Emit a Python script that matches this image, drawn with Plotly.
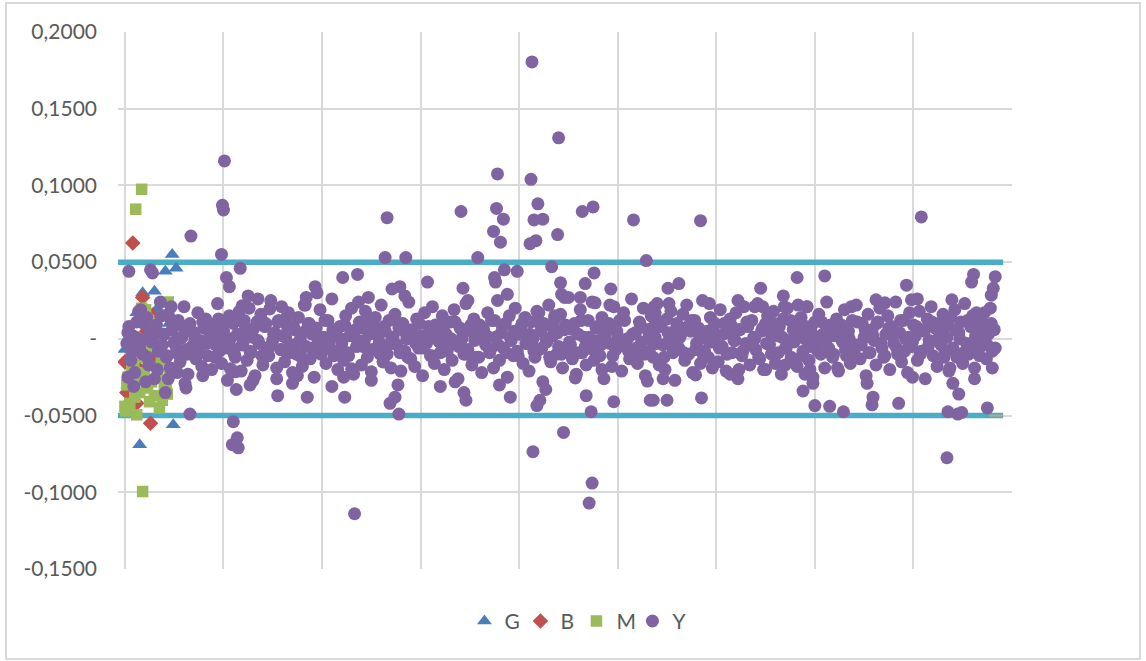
import plotly.graph_objects as go

# ---------------- data ----------------
# Y series: band values (observation index 2, 4, ..., 882)
y_band = [
    -0.003, 0.008, -0.014, 0.002, -0.022, 0.011, -0.006, 0.019, -0.010, 0.000, 0.014, -0.017, 0.005, -0.001, -0.026, 0.009, -0.008, 0.024, -0.004, 0.003,
    -0.012, 0.016, -0.019, 0.006, -0.002, -0.009, 0.012, -0.015, 0.001, 0.021, -0.007, -0.023, 0.010, -0.005, 0.004, -0.013, 0.017, -0.001, -0.018, 0.007,
    0.013, -0.011, 0.002, -0.020, 0.009, -0.004, 0.023, -0.008, -0.016, 0.005, 0.000, -0.027, 0.015, -0.006, 0.010, -0.012, 0.003, 0.018, -0.021, -0.002,
    0.006, -0.014, 0.020, -0.009, 0.001, -0.024, 0.011, -0.003, 0.016, -0.017, 0.008, -0.006, -0.011, 0.025, -0.001, 0.004, -0.019, 0.012, -0.007, 0.002,
    -0.015, 0.009, 0.017, -0.004, -0.022, 0.006, -0.010, 0.014, 0.000, -0.018, 0.022, -0.005, 0.010, -0.013, 0.003, -0.025, 0.007, -0.002, 0.019, -0.008,
    0.001, -0.016, 0.012, -0.006, 0.026, -0.011, 0.004, -0.020, 0.008, -0.003, -0.014, 0.015, -0.009, 0.002, 0.020, -0.023, 0.006, -0.001, 0.011, -0.017,
    -0.005, 0.018, -0.012, 0.003, -0.027, 0.009, 0.014, -0.007, -0.002, 0.022, -0.015, 0.005, -0.010, 0.012, -0.019, 0.001, 0.016, -0.004, 0.007, -0.021,
    0.010, -0.008, 0.000, 0.024, -0.013, 0.004, -0.018, 0.013, -0.006, 0.002, -0.024, 0.017, -0.003, 0.008, -0.011, 0.021, -0.016, 0.006, -0.001, -0.009,
    0.015, -0.020, 0.003, -0.005, 0.011, -0.014, 0.019, -0.002, -0.026, 0.007, 0.000, -0.010, 0.023, -0.007, 0.005, -0.017, 0.013, -0.012, 0.002, 0.009,
    -0.022, 0.006, -0.004, 0.017, -0.009, 0.012, -0.019, 0.001, 0.025, -0.014, 0.004, -0.006, 0.010, -0.025, 0.015, -0.001, -0.011, 0.020, -0.008, 0.003,
    0.008, -0.016, 0.014, -0.003, -0.021, 0.011, 0.000, -0.012, 0.018, -0.007, 0.005, -0.028, 0.009, -0.002, 0.022, -0.015, 0.002, 0.013, -0.010, -0.005,
    0.016, -0.019, 0.006, -0.008, 0.027, -0.004, -0.013, 0.010, -0.023, 0.003, 0.019, -0.009, 0.001, -0.017, 0.012, -0.006, 0.024, -0.014, 0.007, -0.001,
    -0.011, 0.014, -0.026, 0.005, 0.009, -0.003, -0.018, 0.021, -0.007, 0.002, 0.012, -0.021, 0.017, -0.005, 0.000, -0.013, 0.026, -0.010, 0.004, -0.016,
    0.011, -0.002, 0.020, -0.024, 0.006, -0.008, 0.015, -0.012, 0.001, 0.023, -0.017, 0.008, -0.004, -0.020, 0.013, -0.001, 0.018, -0.009, -0.027, 0.010,
    -0.006, 0.003, 0.016, -0.014, 0.022, -0.010, 0.005, -0.022, 0.012, -0.003, 0.007, -0.016, 0.025, -0.008, 0.000, -0.012, 0.014, -0.019, 0.009, 0.002,
    -0.015, 0.019, -0.005, 0.010, -0.021, 0.004, 0.013, -0.009, -0.001, 0.017, -0.026, 0.006, -0.011, 0.021, -0.003, 0.008, -0.017, 0.012, 0.001, -0.007,
    0.023, -0.013, 0.005, -0.020, 0.010, 0.015, -0.004, -0.010, 0.018, -0.016, 0.002, 0.008, -0.023, 0.013, -0.006, 0.020, -0.001, -0.012, 0.006, 0.011,
    -0.018, 0.004, 0.014, -0.008, 0.000, 0.021, -0.014, 0.007, -0.025, 0.011, -0.003, 0.016, -0.010, 0.003, -0.019, 0.024, -0.006, 0.009, -0.012, 0.002,
    0.013, -0.021, 0.008, -0.002, 0.019, -0.011, 0.005, -0.016, 0.012, -0.007, 0.022, -0.004, -0.013, 0.010, 0.001, -0.024, 0.016, -0.009, 0.006, -0.001,
    -0.017, 0.011, 0.020, -0.006, -0.012, 0.003, 0.015, -0.020, 0.008, -0.003, 0.024, -0.010, 0.004, -0.015, 0.012, 0.000, -0.022, 0.017, -0.005, 0.009,
    0.002, -0.014, 0.018, -0.008, 0.006, -0.026, 0.013, -0.001, 0.021, -0.011, 0.007, -0.018, 0.010, -0.004, 0.016, -0.009, 0.001, -0.021, 0.014, -0.006,
    0.019, -0.012, 0.004, 0.011, -0.016, 0.023, -0.003, -0.010, 0.008, 0.015, -0.019, 0.005, -0.007, 0.012, -0.002, 0.017, -0.013, 0.003, 0.020, -0.008,
    0.006,
]
y_band_x = [2 * (i + 1) for i in range(len(y_band))]

# Y series: dense core values (observation index 3, 7, ..., 883)
y_core = [
    0.004, -0.009, 0.001, -0.005, 0.010, -0.012, -0.002, 0.007, -0.007, 0.003, -0.011, 0.012, -0.004, 0.000, 0.008, -0.010, 0.005, -0.001, -0.008, 0.011,
    -0.003, 0.006, -0.012, 0.002, 0.009, -0.006, 0.000, -0.010, 0.012, -0.004, 0.004, -0.008, 0.007, -0.001, -0.011, 0.010, -0.005, 0.003, 0.011, -0.007,
    0.001, -0.009, 0.008, -0.003, -0.012, 0.005, 0.010, -0.006, 0.002, -0.010, 0.012, -0.002, 0.006, -0.008, 0.000, 0.009, -0.011, 0.004, -0.005, 0.007,
    -0.001, 0.011, -0.007, 0.003, -0.010, 0.008, -0.004, 0.001, 0.012, -0.009, 0.005, -0.012, 0.006, -0.003, 0.010, -0.006, 0.002, -0.011, 0.009, -0.002,
    0.007, -0.008, 0.000, 0.011, -0.005, 0.004, -0.010, 0.009, -0.001, -0.012, 0.006, 0.002, -0.007, 0.012, -0.004, 0.008, -0.009, 0.001, 0.005, -0.011,
    0.010, -0.003, 0.003, -0.008, 0.011, -0.006, 0.000, -0.012, 0.007, 0.004, -0.010, 0.009, -0.002, 0.006, -0.009, 0.012, -0.005, 0.001, -0.007, 0.008,
    -0.004, 0.002, 0.010, -0.011, 0.005, -0.001, 0.012, -0.008, 0.003, -0.006, 0.009, -0.010, 0.000, 0.007, -0.003, 0.011, -0.012, 0.004, -0.005, 0.006,
    0.001, -0.009, 0.008, 0.012, -0.007, 0.002, -0.011, 0.005, -0.002, 0.010, -0.006, 0.003, -0.010, 0.009, -0.001, 0.006, -0.008, 0.011, -0.004, 0.000,
    -0.012, 0.007, -0.003, 0.004, 0.010, -0.009, 0.001, -0.006, 0.012, -0.002, 0.005, -0.011, 0.008, -0.005, 0.002, -0.008, 0.011, -0.001, 0.006, -0.010,
    0.003, 0.009, -0.007, 0.000, -0.012, 0.011, -0.004, 0.006, -0.009, 0.002, 0.010, -0.003, -0.011, 0.007, 0.004, -0.006, 0.012, -0.008, 0.001, -0.002,
    0.008, -0.010, 0.005, -0.005, 0.011, -0.001, 0.003, -0.012, 0.009, -0.007, 0.006, 0.000, -0.009, 0.012, -0.003, 0.002, -0.011, 0.007, -0.004, 0.010,
    -0.006,
]
y_core_x = [3 + 4 * i for i in range(len(y_core))]

# Y series: points outside the core band (observation index, value)
y_out_x = [3, 4, 9, 14, 21, 26, 28, 33, 37, 41, 44, 47, 53, 61, 62, 66, 67, 79, 95, 98,
           99, 100, 101, 103, 106, 107, 109, 110, 112, 113, 114, 115, 117, 119, 121, 125, 127, 130, 135, 139,
           147, 154, 155, 159, 164, 170, 175, 183, 184, 185, 193, 195, 210, 221, 222, 223, 230, 233, 236, 237,
           247, 250, 262, 264, 266, 269, 271, 274, 277, 278, 279, 284, 285, 307, 320, 335, 341, 343, 344, 346,
           348, 358, 374, 375, 376, 377, 378, 380, 381, 384, 385, 388, 391, 398, 411, 412, 413, 414, 415, 417,
           418, 419, 420, 421, 424, 425, 427, 433, 436, 439, 440, 442, 443, 445, 446, 457, 462, 464, 467, 468,
           471, 473, 474, 475, 476, 477, 484, 492, 493, 496, 516, 529, 530, 533, 536, 537, 538, 546, 550, 551,
           552, 562, 579, 584, 585, 593, 614, 622, 623, 639, 645, 647, 650, 668, 669, 670, 682, 683, 688, 690,
           692, 695, 698, 700, 710, 715, 723, 729, 737, 753, 758, 759, 762, 771, 785, 793, 798, 799, 804, 808,
           834, 835, 837, 839, 840, 845, 846, 849, 859, 861, 862, 864, 875, 876, 879, 880, 881, 883]
y_out_val = [-0.025, 0.044, -0.031, 0.018, -0.028, 0.045, 0.043, -0.020, 0.015, -0.035, -0.026, 0.021, -0.022, -0.029, -0.032, -0.049, 0.067, -0.024, 0.013, 0.055,
             0.087, 0.084, 0.116, 0.040, 0.034, -0.0195, -0.069, -0.054, -0.0215, -0.033, -0.0645, -0.071, 0.046, 0.0215, 0.012, 0.028, -0.030, -0.027, 0.026, 0.012,
             0.0195, -0.026, -0.037, 0.021, 0.014, -0.029, -0.024, 0.022, 0.027, -0.038, 0.034, 0.030, -0.031, 0.040, -0.025, -0.038, -0.0195, -0.114, 0.042, 0.024,
             0.027, -0.0215, -0.015, 0.053, 0.079, -0.042, 0.0325, -0.038, -0.030, -0.049, 0.034, 0.028, 0.053, 0.037, -0.031, -0.028, 0.083, 0.033, -0.035, -0.040,
             0.025, 0.053, 0.070, 0.040, 0.037, 0.085, 0.1075, -0.030, 0.063, 0.078, 0.045, 0.029, -0.038, 0.044, 0.062, 0.104, 0.1805, -0.0735, 0.0775, 0.064,
             -0.0435, 0.088, 0.017, -0.040, 0.078, 0.010, -0.033, 0.047, 0.015, 0.068, 0.131, 0.0365, 0.029, -0.061, 0.027, -0.0255, 0.027, 0.083, 0.036, -0.037,
             -0.107, -0.0475, -0.094, 0.086, 0.043, 0.0235, -0.020, 0.022, 0.0325, -0.041, 0.0775, 0.051, -0.0275, -0.040, -0.040, 0.021, 0.017, -0.026, -0.040, 0.033,
             0.023, 0.036, -0.0235, 0.077, -0.0385, 0.023, -0.023, 0.025, -0.020, 0.021, 0.033, 0.021, -0.020, 0.028, 0.021, -0.017, 0.040, 0.022, -0.034, -0.023,
             0.021, -0.020, -0.029, -0.0435, 0.041, -0.044, -0.019, -0.0475, 0.021, -0.029, -0.043, -0.038, 0.0255, 0.0235, -0.042, 0.035, 0.0255, -0.025, 0.026, 0.0795,
             -0.0775, -0.0475, -0.019, 0.0255, -0.029, -0.049, -0.036, -0.048, 0.037, 0.042, -0.026, 0.017, -0.045, 0.009, 0.0285, -0.019, 0.033, 0.0405]

# G series (blue triangles)
g_x = [48, 41, 52, 18, 30, 12, 0, 8, 49, 15, 5, 20, 25, 35, 10, 28, 40, 45, 3, 33, 4]
g_y = [0.055, 0.044, 0.046, 0.030, 0.031, 0.017, -0.007, -0.0385, -0.056, -0.069, 0.002, -0.010, 0.008, -0.015, -0.022, 0.012, -0.003, 0.010, -0.030, 0.020, -0.040]

# B series (red diamonds)
b_x = [8, 18, 28, 26, 2, 0, 10, 22, 15, 5, 30, 20, 12, 38]
b_y = [0.0625, 0.027, 0.0155, -0.055, -0.035, -0.015, -0.005, 0.005, -0.020, -0.028, -0.010, 0.012, -0.042, 0.002]

# M series (green squares)
m_x = [17, 11, 18, 44, 2, 3, 0, 1, 12, 35, 40, 42, 23, 30, 20, 33, 37, 25, 7, 15,
       27, 10, 5, 45, 38, 22, 28, 21, 24, 32, 19, 43, 17, 22, 9, 14]
m_y = [0.0975, 0.0845, -0.0995, 0.024, -0.030, -0.025, -0.044, -0.047, -0.0495, -0.045, -0.030, -0.033, -0.032, -0.037, -0.022, -0.025, -0.014, -0.041, -0.020, -0.035,
       -0.028, -0.038, -0.042, -0.019, -0.040, -0.008, 0.010, 0.019, 0.012, -0.003, -0.012, -0.036, 0.020, 0.013, -0.016, -0.027]

# threshold lines
thr_x = [-7, 891]
thr_hi = [0.05, 0.05]
thr_lo = [-0.05, -0.05]
tan_x = [877, 891]
tan_y = [-0.05, -0.05]

# axis ticks
ytick_vals = [-0.15, -0.10, -0.05, 0.0, 0.05, 0.10, 0.15, 0.20]
ytick_text = ["-0,1500", "-0,1000", "-0,0500", "-", "0,0500", "0,1000", "0,1500", "0,2000"]

# ---------------- figure ----------------
FONT = "Lato, Calibri, 'Open Sans', sans-serif"
GRAY_TXT = "#595959"
GRID = "#d9d9d9"

fig = go.Figure()

fig.add_trace(go.Scatter(x=thr_x, y=thr_hi, mode="lines", line=dict(color="#4bacc6", width=5.5),
                         showlegend=False, hoverinfo="skip"))
fig.add_trace(go.Scatter(x=thr_x, y=thr_lo, mode="lines", line=dict(color="#4bacc6", width=5.5),
                         showlegend=False, hoverinfo="skip"))
fig.add_trace(go.Scatter(x=tan_x, y=tan_y, mode="lines", line=dict(color="#c9a57f", width=2),
                         showlegend=False, hoverinfo="skip"))

fig.add_trace(go.Scatter(x=g_x, y=g_y, mode="markers", name="G",
                         marker=dict(symbol="triangle-up", size=13, color="#4a7ebb")))
fig.add_trace(go.Scatter(x=b_x, y=b_y, mode="markers", name="B",
                         marker=dict(symbol="diamond", size=12, color="#c0504d")))
fig.add_trace(go.Scatter(x=m_x, y=m_y, mode="markers", name="M",
                         marker=dict(symbol="square", size=11.5, color="#9bbb59")))
fig.add_trace(go.Scatter(x=y_band_x + y_core_x + y_out_x, y=y_band + y_core + y_out_val,
                         mode="markers", name="Y",
                         marker=dict(symbol="circle", size=13, color="#8064a2")))

fig.update_layout(
    width=1146, height=661,
    margin=dict(l=118, r=134, t=32, b=92),
    paper_bgcolor="white", plot_bgcolor="white",
    font=dict(family=FONT, size=21, color=GRAY_TXT),
    showlegend=True,
    legend=dict(orientation="h", xref="container", yref="container",
                x=0.503, xanchor="center", y=0.06, yanchor="middle",
                font=dict(family=FONT, size=21, color=GRAY_TXT),
                itemwidth=30, entrywidth=11, entrywidthmode="pixels",
                traceorder="normal", bgcolor="rgba(0,0,0,0)"),
    xaxis=dict(range=[-7, 900], tick0=0, dtick=100, showgrid=True, gridcolor=GRID, gridwidth=2,
               zeroline=False, showticklabels=False, ticks="", showline=False),
    yaxis=dict(range=[-0.15, 0.2], tickvals=ytick_vals, ticktext=ytick_text,
               showgrid=True, gridcolor=GRID, gridwidth=2, zeroline=False, showline=False,
               ticks="", ticklabelstandoff=20, tickfont=dict(family=FONT, size=21, color=GRAY_TXT)),
    shapes=[dict(type="rect", xref="paper", yref="paper",
                 x0=(6 - 118) / 894, x1=(1140 - 118) / 894,
                 y0=(569 - 659) / 537, y1=(569 - 3) / 537,
                 line=dict(color="#d9d9d9", width=2), fillcolor="rgba(0,0,0,0)", layer="below")],
)

fig.write_html("out.html")
